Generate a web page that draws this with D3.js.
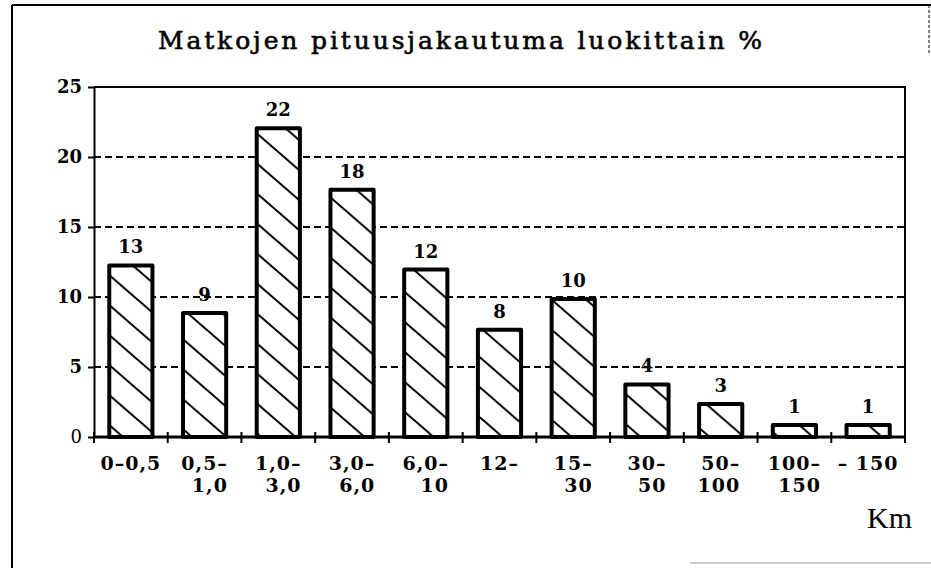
<!DOCTYPE html>
<html lang='fi'>

<head>
	<meta charset='utf-8'>
	<script type='text/javascript' src='https://d3js.org/d3.v7.min.js'></script>
	<style>
		body {
			margin: 0;
			background: #fff;
		}
	</style>
</head>

<body>
	<svg id='chart' width="931" height="568"></svg>

	<script>
		// class labels (two rows under each bar)
		var classTop = ['0–0,5', '0,5–', '1,0–', '3,0–', '6,0–', '12–', '15–', '30–', '50–', '100–', '– 150'];
		var classBottom = ['', '1,0', '3,0', '6,0', '10', '', '30', '50', '100', '150', ''];
		// bar heights as drawn, and the printed value above them
		var barHeights = [12.4, 9.0, 22.2, 17.8, 12.1, 7.8, 10.0, 3.9, 2.5, 1.0, 1.0];
		var barLabels = ['13', '9', '22', '18', '12', '8', '10', '4', '3', '1', '1'];
		var yTicks = [0, 5, 10, 15, 20, 25];
		var gridTicks = [5, 10, 15, 20];

		var serif = '"Liberation Serif", "DejaVu Serif", serif';
		var boldSerif = '"DejaVu Serif", serif';

		var plot = { left: 94, right: 905, top: 87, bottom: 437 };

		var svg = d3.select('#chart');

		// hatch pattern
		var defs = svg.append('defs');
		var pw = 34.5, ph = 30;
		var pattern = defs.append('pattern')
			.attr('id', 'hatch')
			.attr('patternUnits', 'userSpaceOnUse')
			.attr('width', pw)
			.attr('height', ph);
		pattern.append('rect')
			.attr('width', pw)
			.attr('height', ph)
			.attr('fill', '#fff');
		[-ph, 0, ph].forEach(function(off) {
			pattern.append('line')
				.attr('x1', -pw).attr('y1', -ph + off)
				.attr('x2', 2 * pw).attr('y2', 2 * ph + off)
				.attr('stroke', '#000')
				.attr('stroke-width', 2);
		});

		// outer frame of the scanned page
		svg.append('line')
			.attr('x1', 12).attr('y1', 5).attr('x2', 931).attr('y2', 5)
			.attr('stroke', '#000').attr('stroke-width', 2);
		svg.append('line')
			.attr('x1', 12).attr('y1', 5).attr('x2', 12).attr('y2', 568)
			.attr('stroke', '#000').attr('stroke-width', 2);
		svg.append('line')
			.attr('x1', 929).attr('y1', 5).attr('x2', 929).attr('y2', 55)
			.attr('stroke', '#000').attr('stroke-width', 1).attr('stroke-dasharray', '3,2');
		svg.append('line')
			.attr('x1', 690).attr('y1', 563).attr('x2', 931).attr('y2', 563)
			.attr('stroke', '#999').attr('stroke-width', 1);

		// title, spread out like typewriter text
		svg.append('text')
			.attr('x', 158)
			.attr('y', 49)
			.attr('textLength', 604)
			.attr('lengthAdjust', 'spacing')
			.style('font-family', boldSerif)
			.style('font-size', '25px')
			.attr('stroke', '#000')
			.attr('stroke-width', 0.6)
			.text('Matkojen pituusjakautuma luokittain %');

		// scales
		var x = d3.scaleBand()
			.domain(classTop)
			.range([plot.left, plot.right])
			.paddingInner(0.36)
			.paddingOuter(0.18);

		var y = d3.scaleLinear()
			.domain([0, 25])
			.range([plot.bottom, plot.top]);

		// dashed gridlines
		svg.append('g')
			.selectAll('line')
			.data(gridTicks)
			.enter()
			.append('line')
			.attr('x1', plot.left)
			.attr('x2', plot.right)
			.attr('y1', d => y(d))
			.attr('y2', d => y(d))
			.attr('stroke', '#000')
			.attr('stroke-width', 2)
			.attr('stroke-dasharray', '7,4');

		// plot frame: top + right
		svg.append('path')
			.attr('d', 'M' + plot.left + ',' + y(25) + 'H' + plot.right + 'V' + plot.bottom)
			.attr('fill', 'none')
			.attr('stroke', '#000')
			.attr('stroke-width', 2);

		// y axis
		var yAxis = d3.axisLeft(y)
			.tickValues(yTicks)
			.tickSize(6)
			.tickSizeOuter(0)
			.tickPadding(6);

		var gy = svg.append('g')
			.attr('transform', 'translate(' + plot.left + ',0)')
			.call(yAxis);
		gy.select('.domain').attr('stroke-width', 2);
		gy.selectAll('.tick line').attr('stroke-width', 2);
		gy.selectAll('text')
			.style('font-family', boldSerif)
			.style('font-weight', d => d === 0 ? 'normal' : 'bold')
			.style('font-size', '18px')
			.attr('fill', '#000');

		// bars
		var sw = 4;
		svg.append('g')
			.selectAll('rect')
			.data(barHeights)
			.enter()
			.append('rect')
			.attr('x', (d, i) => x(classTop[i]) + sw / 2)
			.attr('y', d => y(d) + sw / 2)
			.attr('width', x.bandwidth() - sw)
			.attr('height', d => plot.bottom - y(d) - sw / 2)
			.attr('fill', 'url(#hatch)')
			.attr('stroke', '#000')
			.attr('stroke-width', sw)
			.attr('stroke-linejoin', 'round');

		// baseline with class boundary ticks
		var bounds = d3.range(classTop.length + 1).map(i => plot.left + i * x.step());
		svg.append('line')
			.attr('x1', plot.left).attr('x2', plot.right)
			.attr('y1', plot.bottom).attr('y2', plot.bottom)
			.attr('stroke', '#000').attr('stroke-width', 3);
		svg.append('g')
			.selectAll('line')
			.data(bounds)
			.enter()
			.append('line')
			.attr('x1', d => d).attr('x2', d => d)
			.attr('y1', plot.bottom - 5).attr('y2', plot.bottom + 6)
			.attr('stroke', '#000').attr('stroke-width', 2);

		// value labels
		svg.append('g')
			.selectAll('text')
			.data(barLabels)
			.enter()
			.append('text')
			.attr('x', (d, i) => x(classTop[i]) + x.bandwidth() / 2)
			.attr('y', (d, i) => y(barHeights[i]) - 10)
			.attr('text-anchor', 'middle')
			.style('font-family', boldSerif)
			.style('font-weight', 'bold')
			.style('font-size', '18px')
			.text(d => d);

		// class labels, second row right-aligned to the first
		var gl = svg.append('g');
		classTop.forEach(function(c, i) {
			var cx = x(c) + x.bandwidth() / 2;
			var t1 = gl.append('text')
				.attr('x', cx)
				.attr('y', 470)
				.attr('text-anchor', 'middle')
				.style('font-family', boldSerif)
				.style('font-weight', 'bold')
				.style('font-size', '19px')
				.style('letter-spacing', '1px')
				.text(c);
			if (classBottom[i]) {
				var w = t1.node().getComputedTextLength();
				gl.append('text')
					.attr('x', cx + w / 2)
					.attr('y', 492)
					.attr('text-anchor', 'end')
					.style('font-family', boldSerif)
					.style('font-weight', 'bold')
					.style('font-size', '19px')
					.style('letter-spacing', '1px')
					.text(classBottom[i]);
			}
		});

		// unit
		svg.append('text')
			.attr('x', 912)
			.attr('y', 528)
			.attr('text-anchor', 'end')
			.style('font-family', serif)
			.style('font-size', '30px')
			.text('Km');
	</script>
</body>

</html>
